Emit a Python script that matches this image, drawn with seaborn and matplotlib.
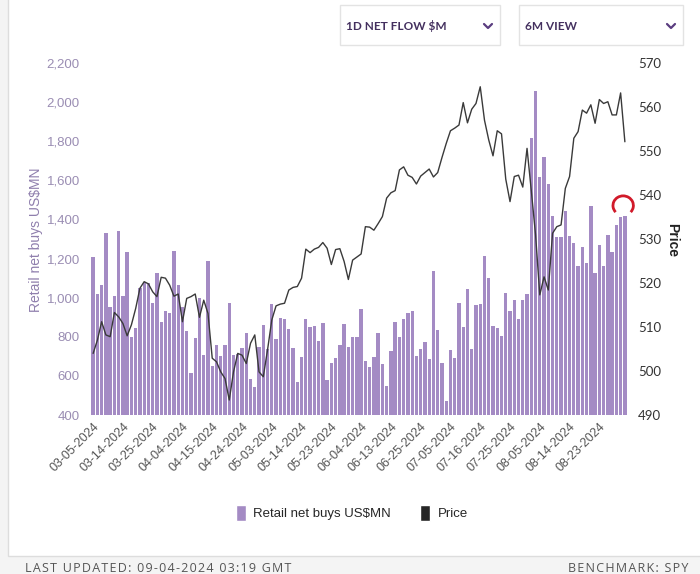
import numpy as np
import pandas as pd
import matplotlib.pyplot as plt
import seaborn as sns
from matplotlib.patches import Patch, Rectangle, Arc
from matplotlib.lines import Line2D
from matplotlib.ticker import FuncFormatter

# trading days shown on the chart (NYSE holidays removed)
holidays = ["2024-03-29", "2024-05-27", "2024-06-19", "2024-07-04", "2024-09-02"]
trade_days = pd.bdate_range("2024-03-05", "2024-09-03").drop(pd.to_datetime(holidays))
date_labels = trade_days.strftime("%m-%d-%Y").tolist()

# retail net buys, US$MN
net_buys = [
    1206, 1019, 1063, 1329, 954, 1009, 1341, 1009, 1234, 797,
    846, 1048, 1082, 1073, 974, 1125, 874, 933, 920, 1241,
    1063, 951, 829, 616, 792, 997, 705, 1186, 652, 756,
    702, 756, 974, 705, 712, 741, 821, 582, 545, 749,
    859, 740, 968, 787, 894, 889, 838, 743, 571, 695,
    889, 852, 855, 780, 872, 579, 668, 691, 756, 864,
    746, 800, 797, 940, 678, 647, 695, 821, 659, 548,
    729, 876, 797, 889, 920, 930, 702, 739, 773, 685,
    1135, 835, 664, 473, 732, 690, 974, 852, 1043, 736,
    963, 966, 1215, 1102, 855, 843, 804, 1026, 933, 988,
    891, 988, 1017, 1815, 2058, 1619, 1718, 1581, 1418, 1312,
    1312, 1445, 1315, 1281, 1162, 1258, 1176, 1469, 1128, 1269,
    1162, 1319, 1235, 1372, 1414, 1418,
]

# SPY price
price = [
    504.0, 507.0, 511.2, 508.2, 507.8, 513.3, 512.3, 510.8, 508.0, 510.5,
    514.2, 518.8, 520.3, 519.8, 518.0, 516.9, 521.3, 521.1, 519.5, 517.0,
    517.5, 511.2, 516.5, 516.9, 517.5, 512.2, 516.1, 513.1, 502.9, 502.1,
    499.8, 498.3, 493.4, 499.8, 504.0, 503.6, 501.7, 506.3, 508.2, 499.8,
    498.7, 504.8, 511.6, 514.8, 515.2, 515.4, 518.4, 519.0, 519.2, 521.1,
    527.7, 526.9, 527.7, 528.1, 529.2, 527.9, 524.2, 527.6, 527.8, 524.9,
    520.8, 525.2, 525.9, 526.6, 532.8, 532.7, 532.0, 533.5, 535.1, 539.3,
    540.5, 541.0, 545.7, 546.4, 544.5, 544.0, 542.5, 544.3, 545.1, 545.9,
    544.1, 545.1, 548.5, 551.7, 554.6, 555.2, 555.9, 561.0, 556.4, 559.5,
    560.8, 564.6, 557.0, 552.5, 548.9, 554.6, 553.9, 543.6, 538.5, 544.2,
    544.5, 541.8, 550.6, 541.0, 531.0, 517.3, 521.4, 518.4, 531.3, 532.8,
    533.2, 541.5, 544.2, 552.9, 554.4, 559.3, 558.6, 560.5, 556.3, 561.7,
    560.8, 561.2, 558.2, 558.2, 563.2, 552.1,
]

left_ticks = list(range(400, 2201, 200))
right_ticks = list(range(490, 571, 10))
tick_every = 7

bar_color = "#a48bc4"
W, H = 700, 574


def fx(px):
    return px / W


def fy(py):
    return 1 - py / H


def spaced(s):
    # rough letter-spacing with hair spaces
    return "\u200a".join(s)


sns.set_theme(style="white")
plt.rcParams["font.family"] = ["Liberation Sans", "DejaVu Sans"]

fig = plt.figure(figsize=(7, 5.74), dpi=100)
fig.patch.set_facecolor("#f4f4f4")

# white card with light border (behind everything)
fig.patches.append(Rectangle((fx(8), fy(556)), 1.0, 556 / H + 0.01, transform=fig.transFigure,
                             facecolor="white", edgecolor="#dddddd", lw=1, zorder=-5))

df = pd.DataFrame({"date": date_labels, "net_buys": net_buys, "price": price})

ax = fig.add_axes([fx(91), fy(415), 536 / W, 352 / H])
ax.set_zorder(2)
ax.patch.set_alpha(0)
sns.barplot(data=df, x="date", y="net_buys", color=bar_color, saturation=1,
            width=0.78, linewidth=0, ax=ax)
ax.set_xlim(-0.5, len(df) - 0.5)
ax.set_ylim(400, 2200)
ax.set_yticks(left_ticks)
ax.yaxis.set_major_formatter(FuncFormatter(lambda v, p: f"{int(v):,}"))
ax.tick_params(axis="y", length=0, pad=8, labelsize=9.5, labelcolor="#9a8db3")
ax.set_xticks(range(0, len(df), tick_every))
ax.set_xticklabels(date_labels[::tick_every], rotation=45, ha="right",
                   rotation_mode="anchor", fontsize=9, color="#555555")
ax.tick_params(axis="x", length=0, pad=4)
ax.set_xlabel("")
ax.set_ylabel("")
for s in ax.spines.values():
    s.set_visible(False)

ax2 = ax.twinx()
sns.lineplot(x=np.arange(len(df)), y=df["price"], color="#3a3a3a", lw=1, ax=ax2)
ax2.set_ylim(490, 570)
ax2.set_yticks(right_ticks)
ax2.tick_params(axis="y", length=0, pad=8, labelsize=9.5, labelcolor="#333333")
for lab in ax2.get_yticklabels():
    lab.set_family(["Lato", "DejaVu Sans"])
ax2.set_ylabel("")
for s in ax2.spines.values():
    s.set_visible(False)

# red hand-drawn circle around the last bars
ax2.add_patch(Arc((124.6, 537.6), width=4.8, height=4.4, theta1=-40, theta2=220,
                  color="#d11a2a", lw=2, zorder=5, clip_on=False))

fig.text(fx(36), fy(240), "Retail net buys US$MN", rotation=90, ha="center",
         va="center", fontsize=10, color="#8f7fad")
fig.text(fx(672), fy(240), "Price", rotation=270, ha="center", va="center",
         fontsize=10, fontweight="bold", color="#222222")

# dropdown boxes at the top
for x0, x1, label in [(340, 500, "1D NET FLOW $M"), (519, 683, "6M VIEW")]:
    fig.patches.append(Rectangle((fx(x0), fy(45)), (x1 - x0) / W, 40 / H,
                                 transform=fig.transFigure, facecolor="white",
                                 edgecolor="#e3e3e3", lw=1))
    fig.text(fx(x0 + 6), fy(26), label, ha="left", va="center", fontsize=8.5,
             fontweight="bold", color="#44305f", family=["Lato", "DejaVu Sans"])
    cx = x1 - 12
    fig.add_artist(Line2D([fx(cx - 4), fx(cx), fx(cx + 4)], [fy(24), fy(28), fy(24)],
                          color="#5b3d80", lw=1.6))

handles = [Patch(facecolor=bar_color, label="Retail net buys US$MN"),
           Patch(facecolor="#262626", label="Price")]
fig.legend(handles=handles, loc="center", bbox_to_anchor=(fx(352), fy(513)), ncol=2,
           frameon=False, fontsize=9.5, handlelength=0.75, handleheight=1.4,
           handletextpad=0.6, columnspacing=2.2)

fig.text(fx(25), fy(568), spaced("LAST UPDATED: 09-04-2024 03:19 GMT"), ha="left",
         va="center", fontsize=9, color="#555555", family=["Open Sans", "DejaVu Sans"])
fig.text(fx(688), fy(568), spaced("BENCHMARK: SPY"), ha="right", va="center",
         fontsize=9, color="#555555", family=["Open Sans", "DejaVu Sans"])

fig.savefig("out.png", dpi=100, facecolor=fig.get_facecolor())
